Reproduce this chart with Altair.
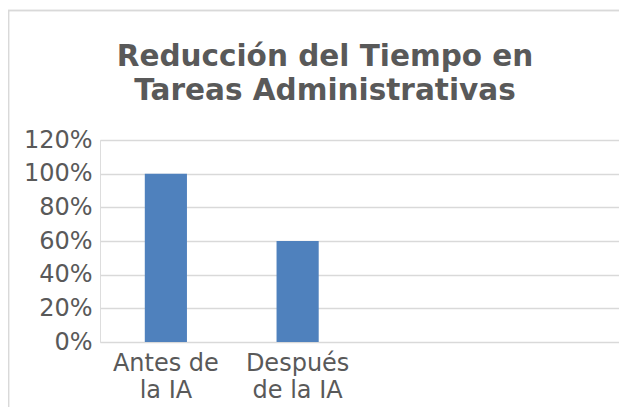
import altair as alt
import pandas as pd

# Data
categories = ["Antes de la IA", "Después de la IA", "_c3", "_c4"]
values = [1.0, 0.6]
label_lines = {
    "Antes de la IA": ["Antes de", "la IA"],
    "Después de la IA": ["Después", "de la IA"],
}
y_ticks = [0, 0.2, 0.4, 0.6, 0.8, 1.0, 1.2]
title_lines = ["Reducción del Tiempo en", "Tareas Administrativas"]

df = pd.DataFrame({"categoria": categories[:2], "valor": values})

label_expr = ""
for k, v in label_lines.items():
    arr = "[" + ",".join("'" + s + "'" for s in v) + "]"
    label_expr += f"datum.value == '{k}' ? {arr} : "
label_expr += "''"

TEXT = "#595959"
GRID = "#d9d9d9"
FONT = "DejaVu Sans"

bars = alt.Chart(df).mark_bar(color="#4f81bd").encode(
    x=alt.X(
        "categoria:N",
        sort=categories,
        scale=alt.Scale(domain=categories, paddingInner=0.68, paddingOuter=0.34),
        axis=alt.Axis(
            title=None,
            labelAngle=0,
            labelExpr=label_expr,
            labelFont=FONT,
            labelFontSize=24,
            labelColor=TEXT,
            labelLineHeight=27,
            labelPadding=9,
            domain=False,
            ticks=False,
            grid=False,
        ),
    ),
    y=alt.Y(
        "valor:Q",
        scale=alt.Scale(domain=[0, 1.2], nice=False, zero=True),
        axis=alt.Axis(
            title=None,
            values=y_ticks,
            format=".0%",
            labelFont=FONT,
            labelFontSize=24,
            labelColor=TEXT,
            labelPadding=8,
            domain=False,
            ticks=False,
            grid=True,
            gridColor=GRID,
            gridWidth=1.5,
        ),
    ),
)

border = alt.Chart(df).mark_rect(fill=None, stroke=GRID, strokeWidth=1.5).encode(
    x=alt.value(-91.5), x2=alt.value(700), y=alt.value(-129.5), y2=alt.value(400)
)

chart = alt.layer(border, bars).properties(
    width=527,
    height=202,
    title=alt.TitleParams(
        text=title_lines,
        font=FONT,
        fontSize=29.5,
        fontWeight="bold",
        color=TEXT,
        anchor="middle",
        dx=-38.5,
        dy=97,
        lineHeight=34.5,
        offset=0,
    ),
    autosize=alt.AutoSizeParams(type="none"),
    padding={"left": 92, "top": 132, "right": -8, "bottom": 65},
).configure_view(stroke=None).configure(background="white")

chart.save("out.html", embed_options={"renderer": "svg", "actions": False})
